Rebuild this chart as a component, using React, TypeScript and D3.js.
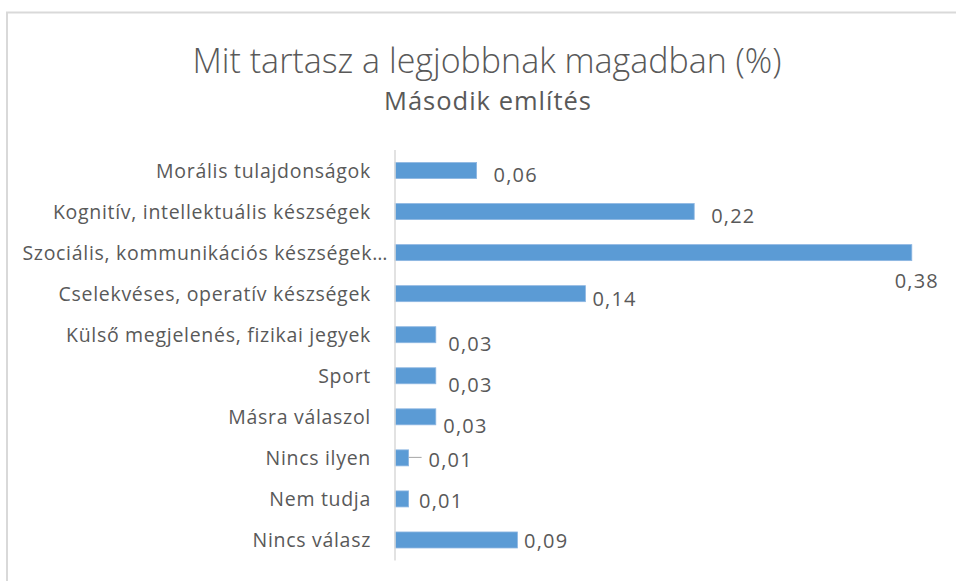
import React from "react";
import * as d3 from "d3";

const title = "Mit tartasz a legjobbnak magadban (%)";
const subtitle = "Második említés";

const categories = [
  "Morális tulajdonságok",
  "Kognitív, intellektuális készségek",
  "Szociális, kommunikációs készségek…",
  "Cselekvéses, operatív készségek",
  "Külső megjelenés, fizikai jegyek",
  "Sport",
  "Másra válaszol",
  "Nincs ilyen",
  "Nem tudja",
  "Nincs válasz",
];

const values = [0.06, 0.22, 0.38, 0.14, 0.03, 0.03, 0.03, 0.01, 0.01, 0.09];

// manual label placement from the original chart (dx from bar end, dy from bar center, anchor)
const labelNudges: { dx: number; dy: number; anchor: string; leader?: boolean }[] = [
  { dx: 17, dy: 3.6, anchor: "start" },
  { dx: 17, dy: 3.5, anchor: "start" },
  { dx: 5, dy: 27.7, anchor: "middle" },
  { dx: 7, dy: 4.6, anchor: "start" },
  { dx: 12.5, dy: 8.6, anchor: "start" },
  { dx: 12.5, dy: 9, anchor: "start" },
  { dx: 7.5, dy: 8.7, anchor: "start" },
  { dx: 20, dy: 1.3, anchor: "start", leader: true },
  { dx: 10.5, dy: 1.7, anchor: "start" },
  { dx: 6.6, dy: 1, anchor: "start" },
];

const W = 956;
const H = 581;
const FONT = "'Open Sans', 'Liberation Sans', sans-serif";
const TEXT = "#595959";

const locale = d3.formatLocale({
  decimal: ",",
  thousands: " ",
  grouping: [3],
  currency: ["", ""],
});
const fmt = locale.format(".2f");

export default function App() {
  const x = d3.scaleLinear().domain([0, 0.4]).range([395, 939]);
  const y = d3
    .scaleBand<string>()
    .domain(categories)
    .range([150, 560.5])
    .paddingInner(0.61)
    .paddingOuter(0.305);
  const bw = y.bandwidth();

  return (
    <svg
      width={W}
      height={H}
      style={{ position: "absolute", left: 0, top: 0, background: "#fff" }}
      fontFamily={FONT}
    >
      <rect x={0} y={0} width={W} height={H} fill="#fff" />
      <rect x={7} y={12.5} width={W + 20} height={H + 20} fill="none" stroke="#d9d9d9" strokeWidth={2} />
      <text x={487} y={60} textAnchor="middle" dominantBaseline="central" fontSize={34} fontWeight={300} fill={TEXT}>
        {title}
      </text>
      <text x={488} y={100} textAnchor="middle" dominantBaseline="central" fontSize={25.5} letterSpacing={1} fill={TEXT}>
        {subtitle}
      </text>

      {categories.map((c, i) => {
        const yc = (y(c) as number) + bw / 2;
        return (
          <text
            key={"cat" + i}
            x={c.endsWith("…") ? 388 : 371}
            y={yc}
            textAnchor="end"
            dominantBaseline="central"
            fontSize={19.5}
            letterSpacing={0.7}
            fill={TEXT}
          >
            {c}
          </text>
        );
      })}

      {values.map((v, i) => (
        <rect
          key={"bar" + i}
          x={x(0)}
          y={y(categories[i]) as number}
          width={x(v) - x(0)}
          height={bw}
          fill="#5b9bd5"
          stroke="#8db6e2"
          strokeWidth={0.8}
        />
      ))}

      <line x1={x(0)} x2={x(0)} y1={150} y2={560.5} stroke="#d9d9d9" strokeWidth={1.5} />

      {values.map((v, i) => {
        const n = labelNudges[i];
        const yc = (y(categories[i]) as number) + bw / 2;
        return (
          <g key={"lbl" + i}>
            {n.leader && (
              <line x1={x(v)} x2={x(v) + n.dx - 7} y1={yc - 0.5} y2={yc - 0.5} stroke="#a6a6a6" strokeWidth={1} />
            )}
            <text
              x={x(v) + n.dx}
              y={yc + n.dy}
              textAnchor={n.anchor as any}
              dominantBaseline="central"
              fontSize={20}
              letterSpacing={1.2}
              fill={TEXT}
            >
              {fmt(v)}
            </text>
          </g>
        );
      })}
    </svg>
  );
}
